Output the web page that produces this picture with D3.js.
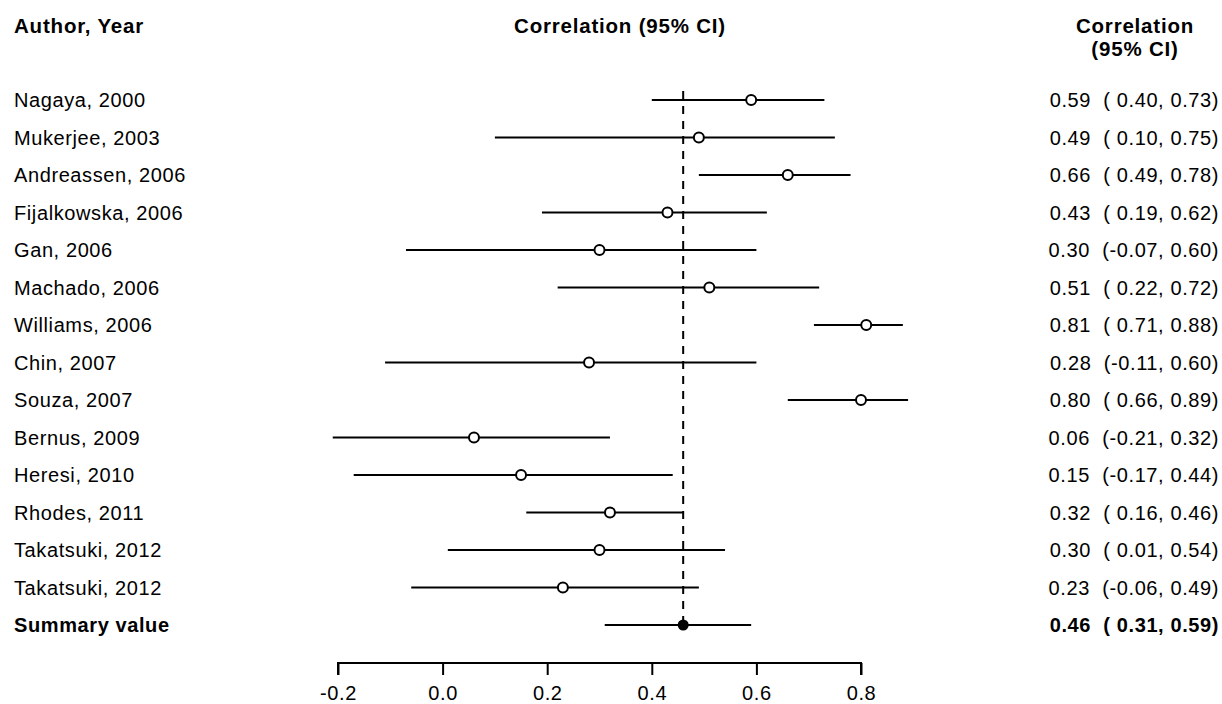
<!DOCTYPE html>
<html>
<head>
<meta charset="utf-8">
<script src="https://d3js.org/d3.v7.min.js"></script>
<style>
body { margin: 0; background: #fff; }
svg { display: block; }
text { font-family: "Liberation Sans", Arial, sans-serif; fill: #000; white-space: pre; }
</style>
</head>
<body>
<svg id="chart"></svg>
<script>

// Study data
var studies = ["Nagaya, 2000", "Mukerjee, 2003", "Andreassen, 2006", "Fijalkowska, 2006", "Gan, 2006",
	"Machado, 2006", "Williams, 2006", "Chin, 2007", "Souza, 2007", "Bernus, 2009",
	"Heresi, 2010", "Rhodes, 2011", "Takatsuki, 2012", "Takatsuki, 2012"];
var estimates = [0.59, 0.49, 0.66, 0.43, 0.30, 0.51, 0.81, 0.28, 0.80, 0.06, 0.15, 0.32, 0.30, 0.23];
var lowers = [0.40, 0.10, 0.49, 0.19, -0.07, 0.22, 0.71, -0.11, 0.66, -0.21, -0.17, 0.16, 0.01, -0.06];
var uppers = [0.73, 0.75, 0.78, 0.62, 0.60, 0.72, 0.88, 0.60, 0.89, 0.32, 0.44, 0.46, 0.54, 0.49];

var summaryLabel = "Summary value";
var summary = { est: 0.46, lo: 0.31, hi: 0.59 };

var axisTicks = [-0.2, 0.0, 0.2, 0.4, 0.6, 0.8];

var width = 1222, height = 704;
var svg = d3.select("#chart").attr("width", width).attr("height", height);

var x = d3.scaleLinear().domain([-0.2, 0.8]).range([338, 861]);
var y = d3.scaleLinear().domain([0, 14]).range([100, 625]);

var fmt = d3.format(".2f");
function ci(lo, hi) {
	var l = fmt(lo).replace("−", "-");
	var h = fmt(hi).replace("−", "-");
	return "(" + (lo < 0 ? "" : " ") + l + ", " + h + ")";
}

var rows = studies.map(function (s, i) {
	return { name: s, est: estimates[i], lo: lowers[i], hi: uppers[i], i: i };
});

var fs = "20px", ls = "0.6px";

// headers
var head = svg.append("g").style("font-weight", "bold").style("font-size", "20.5px").style("letter-spacing", "0.8px");
head.append("text").attr("x", 14).attr("y", 33).text("Author, Year");
head.append("text").attr("x", 620).attr("y", 33).attr("text-anchor", "middle").text("Correlation (95% CI)");
head.append("text").attr("x", 1135).attr("y", 33).attr("text-anchor", "middle").text("Correlation");
head.append("text").attr("x", 1135).attr("y", 56).attr("text-anchor", "middle").text("(95% CI)");

// reference line at the summary estimate
svg.append("line")
	.attr("x1", x(summary.est)).attr("x2", x(summary.est))
	.attr("y1", 91).attr("y2", y(14))
	.attr("stroke", "#000").attr("stroke-width", 2)
	.attr("stroke-dasharray", "8,7");

var g = svg.selectAll("g.row").data(rows).enter().append("g").attr("class", "row");

g.append("text")
	.attr("x", 14).attr("y", function (d) { return y(d.i) + 7; })
	.style("font-size", fs).style("letter-spacing", ls)
	.text(function (d) { return d.name; });

g.append("line")
	.attr("x1", function (d) { return x(d.lo); })
	.attr("x2", function (d) { return x(d.hi); })
	.attr("y1", function (d) { return y(d.i); })
	.attr("y2", function (d) { return y(d.i); })
	.attr("stroke", "#000").attr("stroke-width", 2);

g.append("circle")
	.attr("cx", function (d) { return x(d.est); })
	.attr("cy", function (d) { return y(d.i); })
	.attr("r", 5)
	.attr("fill", "#fff").attr("stroke", "#000").attr("stroke-width", 2);

g.append("text")
	.attr("x", 1219).attr("y", function (d) { return y(d.i) + 7; })
	.attr("text-anchor", "end")
	.style("font-size", fs).style("letter-spacing", ls)
	.text(function (d) { return fmt(d.est) + "  " + ci(d.lo, d.hi); });

// summary row
var sy = y(14);
svg.append("text").attr("x", 14).attr("y", sy + 7)
	.style("font-size", fs).style("font-weight", "bold").style("letter-spacing", ls)
	.text(summaryLabel);
svg.append("line")
	.attr("x1", x(summary.lo)).attr("x2", x(summary.hi))
	.attr("y1", sy).attr("y2", sy)
	.attr("stroke", "#000").attr("stroke-width", 2);
svg.append("circle")
	.attr("cx", x(summary.est)).attr("cy", sy).attr("r", 5.5)
	.attr("fill", "#000");
svg.append("text").attr("x", 1219).attr("y", sy + 7).attr("text-anchor", "end")
	.style("font-size", fs).style("font-weight", "bold").style("letter-spacing", ls)
	.text(fmt(summary.est) + "  " + ci(summary.lo, summary.hi));

// x axis
var axis = d3.axisBottom(x)
	.tickValues(axisTicks)
	.tickFormat(function (d) { return d3.format(".1f")(d).replace("−", "-"); })
	.tickSize(12).tickSizeOuter(0).tickPadding(11);

var ax = svg.append("g").attr("transform", "translate(0,663)").call(axis);
ax.selectAll("path, line").attr("stroke", "#000").attr("stroke-width", 2);
ax.select(".domain").attr("d", "M" + x(-0.2) + ",12V0H" + x(0.8) + "V12");
ax.selectAll("text")
	.style("font-family", "'Liberation Sans', Arial, sans-serif")
	.style("font-size", fs).style("letter-spacing", ls);

</script>
</body>
</html>
